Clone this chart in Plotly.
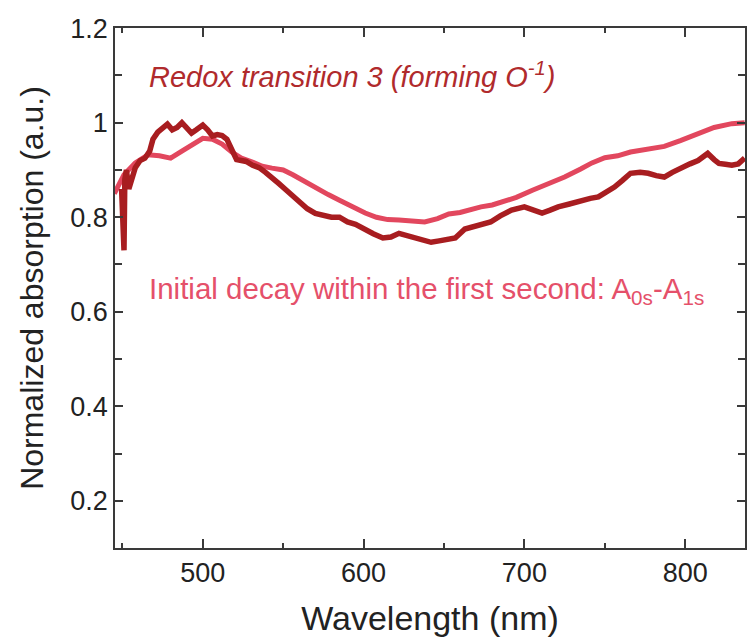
import plotly.graph_objects as go

# Pink series: initial decay within the first second (A0s - A1s)
decay_wl = [445, 451, 458, 466, 473, 480, 487, 494, 500, 506, 512, 518, 524, 530,
            537, 543, 550, 556, 563, 570, 578, 585, 593, 601, 608, 615, 622, 630,
            638, 646, 653, 660, 667, 673, 680, 688, 695, 705, 715, 725, 735, 742,
            750, 758, 766, 775, 787, 797, 808, 818, 829, 837]
decay_val = [0.85, 0.89, 0.915, 0.932, 0.93, 0.925, 0.94, 0.955, 0.967, 0.965, 0.955,
             0.938, 0.925, 0.918, 0.908, 0.904, 0.9, 0.89, 0.876, 0.862, 0.848, 0.836,
             0.822, 0.809, 0.8, 0.795, 0.794, 0.792, 0.79, 0.797, 0.807, 0.81, 0.817,
             0.822, 0.826, 0.834, 0.842, 0.857, 0.87, 0.885, 0.902, 0.915, 0.926, 0.93,
             0.938, 0.943, 0.95, 0.962, 0.978, 0.99, 0.998, 1.0]

# Dark red series: redox transition 3 (forming O-1)
redox_wl = [449.5, 450.5, 451, 451.5, 452.5, 454, 456, 458, 461, 464, 467, 469, 472,
            475, 478, 481, 484, 487, 490, 493, 496, 500, 503, 506, 509, 512, 515, 518,
            521, 524, 527, 531, 535, 539, 543, 547, 552, 556, 560, 565, 570, 575, 580,
            585, 590, 595, 601, 606, 612, 617, 622, 627, 632, 637, 642, 647, 652, 657,
            663, 668, 674, 679, 685, 692, 700, 706, 711, 716, 721, 728, 735, 741, 746,
            751, 756, 761, 766, 772, 777, 782, 787, 792, 798, 803, 808, 814, 818, 821,
            825, 829, 833, 837]
redox_val = [0.86, 0.80, 0.73, 0.88, 0.90, 0.86, 0.885, 0.905, 0.92, 0.925, 0.94, 0.965,
             0.98, 0.99, 0.997, 0.985, 0.99, 1.0, 0.99, 0.978, 0.985, 0.995, 0.985, 0.972,
             0.975, 0.973, 0.965, 0.945, 0.922, 0.92, 0.918, 0.91, 0.905, 0.895, 0.885,
             0.872, 0.857, 0.845, 0.83, 0.818, 0.808, 0.803, 0.8, 0.8, 0.79, 0.785, 0.773,
             0.765, 0.756, 0.758, 0.766, 0.762, 0.758, 0.752, 0.747, 0.75, 0.752, 0.756,
             0.775, 0.78, 0.785, 0.79, 0.803, 0.815, 0.822, 0.815, 0.809, 0.815, 0.822,
             0.828, 0.836, 0.84, 0.843, 0.852, 0.864, 0.878, 0.893, 0.895, 0.893, 0.888,
             0.885, 0.895, 0.906, 0.913, 0.92, 0.935, 0.922, 0.914, 0.912, 0.91, 0.913,
             0.925]

x_ticks = [500, 600, 700, 800]
y_ticks = [0.2, 0.4, 0.6, 0.8, 1.0, 1.2]
y_ticklabels = ["0.2", "0.4", "0.6", "0.8", "1", "1.2"]

PINK = "#e2475e"
DARK = "#a81d20"
AXIS = "#3a3a3a"
FONT = "Liberation Sans, Arial, sans-serif"

fig = go.Figure()
fig.add_trace(go.Scatter(x=decay_wl, y=decay_val, mode="lines",
                         line=dict(color=PINK, width=5), showlegend=False))
fig.add_trace(go.Scatter(x=redox_wl, y=redox_val, mode="lines",
                         line=dict(color=DARK, width=5.5), showlegend=False))

axis_common = dict(showline=True, linecolor=AXIS, linewidth=1.5, mirror="allticks",
                   ticks="inside", tickcolor=AXIS, tickwidth=1.5, showgrid=False,
                   zeroline=False, tickfont=dict(family=FONT, size=27, color="#222"))

fig.update_xaxes(range=[445.4, 837.2], tickvals=x_ticks, ticklen=9,
                 minor=dict(ticks="inside", ticklen=5, tickvals=[450, 550, 650, 750],
                            tickcolor=AXIS, tickwidth=1.5),
                 title=dict(text="Wavelength (nm)", font=dict(family=FONT, size=34, color="#222"),
                            standoff=19),
                 **axis_common)
fig.update_yaxes(range=[0.1, 1.2005], tickvals=y_ticks, ticktext=y_ticklabels, ticklen=8,
                 minor=dict(ticks="inside", ticklen=7, tickvals=[0.3, 0.5, 0.7, 0.9, 1.1],
                            tickcolor=AXIS, tickwidth=1.5),
                 title=dict(text="Normalized absorption (a.u.)",
                            font=dict(family=FONT, size=32, color="#222"), standoff=17),
                 **axis_common)

fig.add_annotation(text="<i>Redox transition 3 (forming O<sup>-1</sup>)</i>",
                   xref="paper", yref="paper", x=0.05, y=0.91, xanchor="left",
                   yanchor="middle", showarrow=False,
                   font=dict(family=FONT, size=29, color="#b02a2c"))
fig.add_annotation(text="Initial decay within the first second: A<sub>0s</sub>-A<sub>1s</sub>",
                   xref="paper", yref="paper", x=0.05, y=0.496, xanchor="left",
                   yanchor="middle", showarrow=False,
                   font=dict(family=FONT, size=29.5, color="#e5506a"))

fig.update_layout(width=747, height=643, margin=dict(l=115, r=0, t=28, b=95),
                  plot_bgcolor="white", paper_bgcolor="white")

fig.write_html("out.html")
